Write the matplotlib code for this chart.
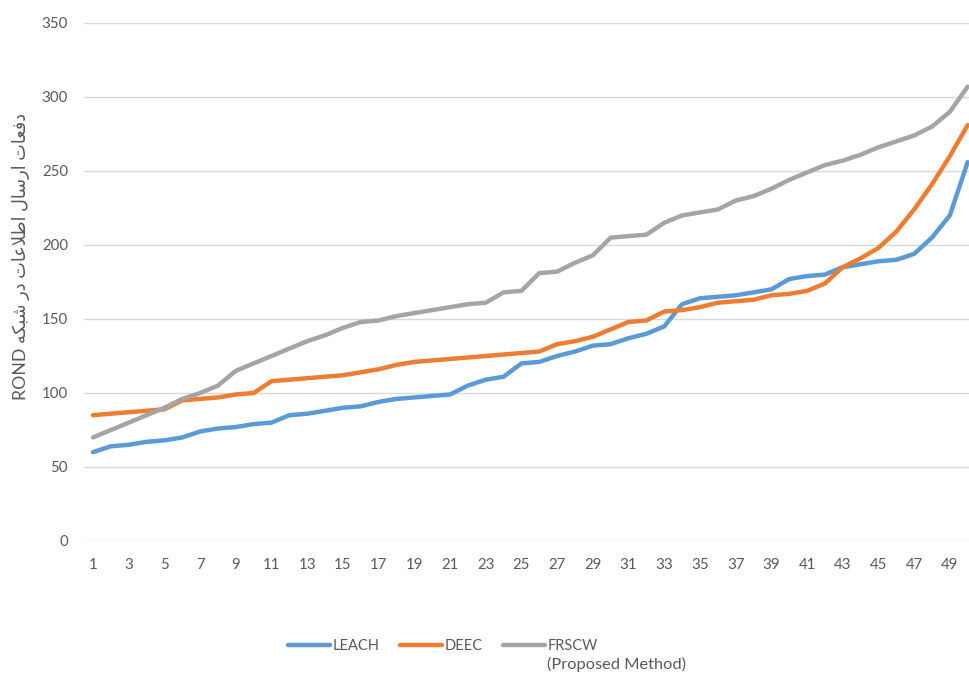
import matplotlib
matplotlib.use("Agg")
import matplotlib.pyplot as plt
from matplotlib.lines import Line2D

rounds = list(range(1, 51))
leach = [60, 64, 65, 67, 68, 70, 74, 76, 77, 79, 80, 85, 86, 88, 90, 91, 94, 96, 97, 98,
         99, 105, 109, 111, 120, 121, 125, 128, 132, 133, 137, 140, 145, 160, 164, 165, 166, 168, 170, 177,
         179, 180, 185, 187, 189, 190, 194, 205, 220, 256]
deec = [85, 86, 87, 88, 89, 95, 96, 97, 99, 100, 108, 109, 110, 111, 112, 114, 116, 119, 121, 122,
        123, 124, 125, 126, 127, 128, 133, 135, 138, 143, 148, 149, 155, 156, 158, 161, 162, 163, 166, 167,
        169, 174, 185, 191, 198, 209, 224, 241, 260, 281]
frscw = [70, 75, 80, 85, 90, 96, 100, 105, 115, 120, 125, 130, 135, 139, 144, 148, 149, 152, 154, 156,
         158, 160, 161, 168, 169, 181, 182, 188, 193, 205, 206, 207, 215, 220, 222, 224, 230, 233, 238, 244,
         249, 254, 257, 261, 266, 270, 274, 280, 290, 307]
labels = ["LEACH", "DEEC", "FRSCW"]
colors = ["#5B9BD5", "#ED7D31", "#A5A5A5"]

# persian axis title, already shaped (presentation forms) and in visual order
# because matplotlib does no bidi / arabic shaping
fa_title = ("ROND "
            "\ufeea\ufedc\ufe92\ufeb7 "
            "\ufead\ufea9 "
            "\ufe95\ufe8e\ufecb\ufefc\ufec3\ufe8d "
            "\ufedd\ufe8e\ufeb3\ufead\ufe8d "
            "\ufe95\ufe8e\ufecc\ufed3\ufea9")

txt = "#595959"
plt.rcParams['font.family'] = ['Lato', 'DejaVu Sans']

W, H = 969, 675
fig = plt.figure(figsize=(W / 100, H / 100), dpi=100)
ax = fig.add_axes([84.1 / W, (H - 541) / H, 892.5 / W, 518 / H])

for ys, c in zip([leach, deec, frscw], colors):
    ax.plot(rounds, ys, color=c, lw=3.2, solid_joinstyle='round', solid_capstyle='round')

ax.set_xlim(0.5, 50.5)
ax.set_ylim(0, 350)
ax.set_yticks(range(0, 351, 50))
ax.set_xticks(range(1, 50, 2))
ax.grid(axis='y', color='#D9D9D9', lw=1.0)
ax.set_axisbelow(True)
for s in ax.spines.values():
    s.set_visible(False)
ax.tick_params(axis='both', length=0, colors=txt, labelsize=10.8)
ax.tick_params(axis='y', pad=11.5)
ax.tick_params(axis='x', pad=12)

fig.text(21 / W, 1 - 256 / H, fa_title, rotation=90, ha='center', va='center',
         color=txt, fontsize=12.8)

handles = [Line2D([], [], color=c, lw=3.2, solid_capstyle='round') for c in colors]
leg = fig.legend(handles, labels, loc='center left', bbox_to_anchor=(288 / W, 1 - 646 / H),
                 ncol=3, frameon=False, fontsize=10.5, handlelength=2.9, handletextpad=0.15,
                 columnspacing=1.4, borderpad=0, borderaxespad=0)
for t in leg.get_texts():
    t.set_color(txt)

# second line under the FRSCW legend entry
fig.canvas.draw()
bb = leg.get_texts()[2].get_window_extent().transformed(fig.transFigure.inverted())
fig.text(bb.x0, bb.y0 - 4 / H, "(Proposed Method)", ha='left', va='top', color=txt, fontsize=11.8)

fig.savefig("out.png", dpi=100)
